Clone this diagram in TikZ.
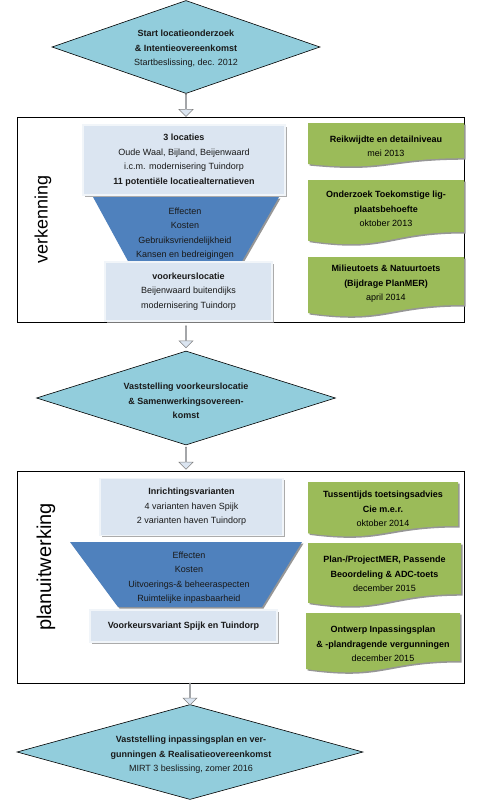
\documentclass[tikz,border=0pt]{standalone}
\usepackage{fontspec}
\setmainfont{Liberation Sans}
\usetikzlibrary{shapes.geometric,shapes.arrows,shadows,calc}
\definecolor{diamondblue}{RGB}{146,205,220}
\definecolor{boxblue}{RGB}{219,229,241}
\definecolor{funnelblue}{RGB}{79,129,189}
\definecolor{docgreen}{RGB}{155,187,89}
\definecolor{shadowgray}{RGB}{150,150,150}
\definecolor{arrowgray}{RGB}{128,128,128}
% wavy document outline: left, top, right, bottom
\newcommand{\docpath}[4]{(#1,#2) -- (#3,#2) -- (#3,{#2+0.80*(#4-#2)})
  .. controls ({(#1+#3)/2},{#2+0.80*(#4-#2)}) and ({(#1+#3)/2},{#2+1.11*(#4-#2)}) .. (#1,{#2+0.934*(#4-#2)}) -- cycle}
% green document: name, left, top, right, bottom, text y, text
\newcommand{\greendoc}[7]{%
  \fill[shadowgray, shift={(1.5,1.5)}] \docpath{#2}{#3}{#4}{#5};
  \fill[docgreen] \docpath{#2}{#3}{#4}{#5};
  \begin{scope}
    \clip \docpath{#2}{#3}{#4}{#5};
    \node[doctext] (#1) at ({(#2+#4)/2},#6) {#7};
  \end{scope}}

\begin{document}
\begin{tikzpicture}[x=1pt, y=-1pt,
    basetext/.style={align=center, inner sep=0pt, font=\fontsize{9}{14.5}\selectfont, text=black!90},
    doctext/.style={basetext, text=black},
    decision/.style={diamond, draw=black, line width=0.6pt, fill=diamondblue, inner sep=0pt},
    phasebox/.style={rectangle, draw=black, line width=0.8pt, fill=white, inner sep=0pt},
    lightbox/.style={rectangle, fill=boxblue, draw=boxblue!40!white, line width=1.2pt,
      drop shadow={shadow xshift=1.5pt, shadow yshift=-1.5pt, fill=shadowgray, opacity=.8}, basetext},
    flowarrow/.style={single arrow, rotate=-90, draw=arrowgray, fill=boxblue, line width=0.5pt,
      minimum width=14pt, minimum height=22pt, single arrow head extend=3pt, inner sep=0pt},
  ]
    \useasboundingbox (0,0) rectangle (483,803);
    % Phase Frames
    \node[phasebox, minimum width=447pt, minimum height=205pt] (verk) at (240.5,219.5) {};
    \node[phasebox, minimum width=447pt, minimum height=212pt] (plan) at (240.5,577) {};
    \node[rotate=90, font=\fontsize{18}{18}\selectfont] (verklabel) at (43,219) {verkenning};
    \node[rotate=90, font=\fontsize{20}{20}\selectfont] (planlabel) at (46,567) {planuitwerking};
    %
    % Verkenning: Funnel
    \node[lightbox, minimum width=202pt, minimum height=70pt] (locaties) at (184,160)
      {\textbf{3 locaties}\\Oude Waal, Bijland, Beijenwaard\\i.c.m. modernisering Tuindorp\\\textbf{11 potentiële locatiealternatieven}};
    \fill[shadowgray, shift={(1.5,1.5)}] (93,197) -- (279,197) -- (241,263) -- (129,263) -- cycle;
    \fill[funnelblue] (93,197) -- (279,197) -- (241,263) -- (129,263) -- cycle;
    \begin{scope}
      \clip (93,197) -- (279,197) -- (241,263) -- (129,263) -- cycle;
      \node[basetext] (criteria1) at (185,233.5) {Effecten\\Kosten\\Gebruiksvriendelijkheid\\Kansen en bedreigingen};
    \end{scope}
    \node[lightbox, minimum width=167pt, minimum height=59pt] (voorkeur) at (188.5,291.5)
      {\textbf{voorkeurslocatie}\\Beijenwaard buitendijks\\modernisering Tuindorp};
    % Verkenning: Products
    \greendoc{reikwijdte}{308}{123}{464}{167}{146.5}{\textbf{Reikwijdte en detailniveau}\\mei 2013}
    \greendoc{ligplaats}{308}{180}{464}{245}{209}{\textbf{Onderzoek Toekomstige lig-}\\\textbf{plaatsbehoefte}\\oktober 2013}
    \greendoc{milieutoets}{308}{257}{464}{317}{284}{\textbf{Milieutoets \& Natuurtoets}\\\textbf{(Bijdrage PlanMER)}\\april 2014}
    %
    % Planuitwerking: Funnel
    \node[lightbox, minimum width=183pt, minimum height=57pt] (varianten) at (191.5,507)
      {\textbf{Inrichtingsvarianten}\\4 varianten haven Spijk\\2 varianten haven Tuindorp};
    \fill[shadowgray, shift={(1.5,1.5)}] (70,542) -- (302,542) -- (262,607) -- (118,607) -- cycle;
    \fill[funnelblue] (70,542) -- (302,542) -- (262,607) -- (118,607) -- cycle;
    \begin{scope}
      \clip (70,542) -- (302,542) -- (262,607) -- (118,607) -- cycle;
      \node[basetext] (criteria2) at (189,577.5) {Effecten\\Kosten\\Uitvoerings-\& beheeraspecten\\Ruimtelijke inpasbaarheid};
    \end{scope}
    \node[lightbox, minimum width=187pt, minimum height=32pt] (keuze) at (183.5,626)
      {\textbf{Voorkeursvariant Spijk en Tuindorp}};
    % Planuitwerking: Products
    \greendoc{tussenadvies}{308}{482}{458}{537}{509}{\textbf{Tussentijds toetsingsadvies}\\\textbf{Cie m.e.r.}\\oktober 2014}
    \greendoc{planmer}{308}{543}{461}{607}{574}{\textbf{Plan-/ProjectMER, Passende}\\\textbf{Beoordeling \& ADC-toets}\\december 2015}
    \greendoc{inpassing}{306}{613}{460}{673}{644}{\textbf{Ontwerp Inpassingsplan}\\\textbf{\& -plandragende vergunningen}\\december 2015}
    %
    % Decisions
    \node[decision, minimum width=268pt, minimum height=93pt] (start) at (186,47) {};
    \node[basetext] (starttext) at (186,49)
      {\textbf{Start locatieonderzoek}\\\textbf{\& Intentieovereenkomst}\\Startbeslissing, dec. 2012};
    \node[decision, minimum width=299pt, minimum height=94pt] (vkl) at (186,398) {};
    \node[basetext] (vkltext) at (186,401)
      {\textbf{Vaststelling voorkeurslocatie}\\\textbf{\& Samenwerkingsovereen-}\\\textbf{komst}};
    \node[decision, minimum width=346pt, minimum height=95pt] (real) at (190,752) {};
    \node[basetext] (realtext) at (191,755)
      {\textbf{Vaststelling inpassingsplan en ver-}\\\textbf{gunningen \& Realisatieovereenkomst}\\MIRT 3 beslissing, zomer 2016};
    %
    % Flow Arrows
    \node[flowarrow] (a1) at ($(start.south)!0.5!(start.south |- verk.north)$) {};
    \node[flowarrow] (a2) at ($(vkl.north)!0.5!(vkl.north |- verk.south)$) {};
    \node[flowarrow] (a3) at ($(vkl.south)!0.5!(vkl.south |- plan.north)$) {};
    \node[flowarrow] (a4) at ($(real.north)!0.5!(real.north |- plan.south)$) {};
\end{tikzpicture}
\end{document}
